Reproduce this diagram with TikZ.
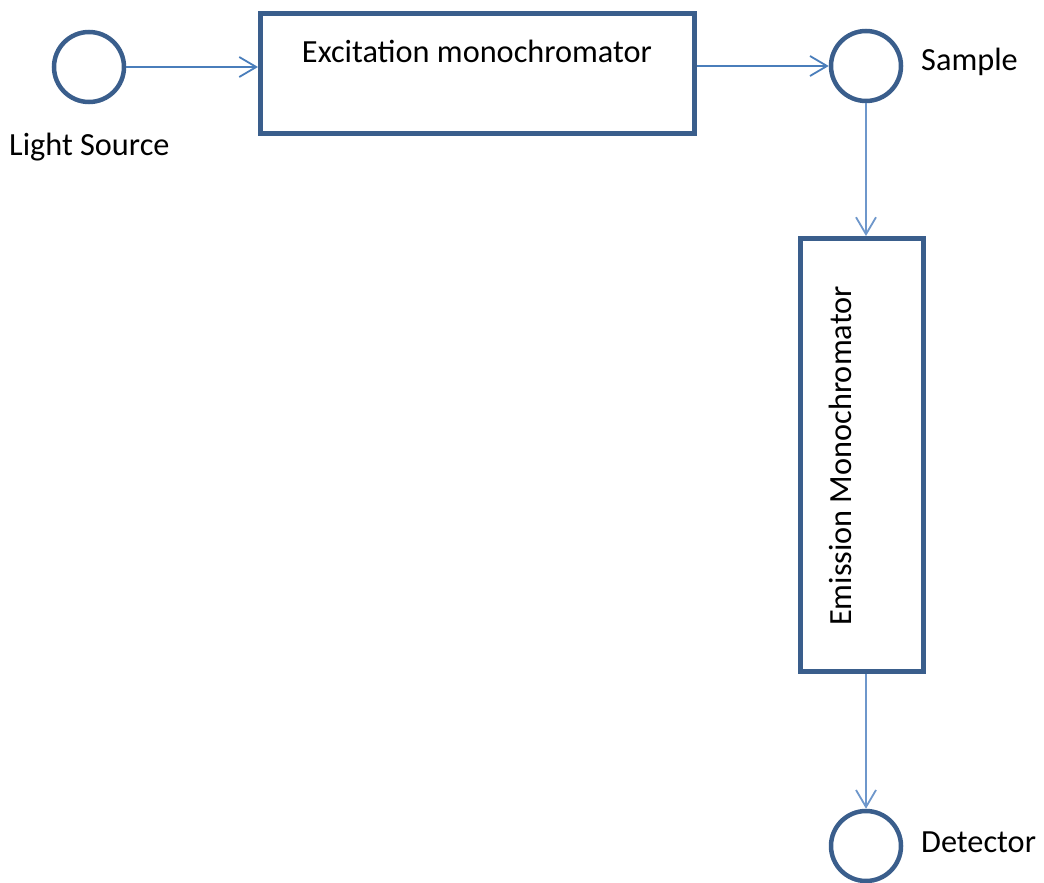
\documentclass[tikz,border=0pt]{standalone}
\usepackage{fontspec}
\setmainfont{Carlito}
\usetikzlibrary{arrows.meta}
\definecolor{outline}{HTML}{3A5E8C}
\definecolor{flow}{HTML}{4A7EBB}
\definecolor{flowlight}{HTML}{6E97CB}
\tikzset{
  part/.style={circle, draw=outline, line width=4.5pt, minimum size=70pt, inner sep=0pt},
  unit/.style={rectangle, draw=outline, line width=5pt, inner sep=0pt},
  caption/.style={inner sep=0pt, font=\fontsize{32.3}{37}\selectfont, text=black},
  flowarrow/.style={draw=flow, line width=1.8pt, -{Straight Barb[length=17pt,width=20pt,line width=1.8pt]}},
  flowarrowlight/.style={flowarrow, draw=flowlight}
}
\begin{document}
\begin{tikzpicture}[x=1pt,y=-1pt]
  \useasboundingbox (0,0) rectangle (1044,883);
  \clip (0,0) rectangle (1044,883);

  % components
  \node[part] (ls) at (89,67) {};
  \node[unit, minimum width=434pt, minimum height=120pt] (exc) at (477.5,73.5) {};
  \node[part] (smp) at (866,66) {};
  \node[unit, minimum width=123pt, minimum height=433pt] (emi) at (862,455) {};
  \node[part] (det) at (866,846) {};

  % texts
  \node[caption] (exct) at (477,51) {Excitation monochromator};
  \node[caption, rotate=90] (emit) at (840,456) {Emission Monochromator};
  \node[caption, anchor=west] (lst) at (9,147) {Light Source};
  \node[caption, anchor=west] (smpt) at (921,62) {Sample};
  \node[caption, anchor=west] (dett) at (921,842) {Detector};

  % light path
  \draw[flowarrow] (ls.east) -- (ls.east -| exc.west);
  \draw[flowarrow] (smp.west -| exc.east) -- (smp.west);
  \draw[flowarrowlight] (smp.south) -- (smp.south |- emi.north);
  \draw[flowarrowlight] (emi.south -| det.north) -- (det.north);
\end{tikzpicture}
\end{document}
